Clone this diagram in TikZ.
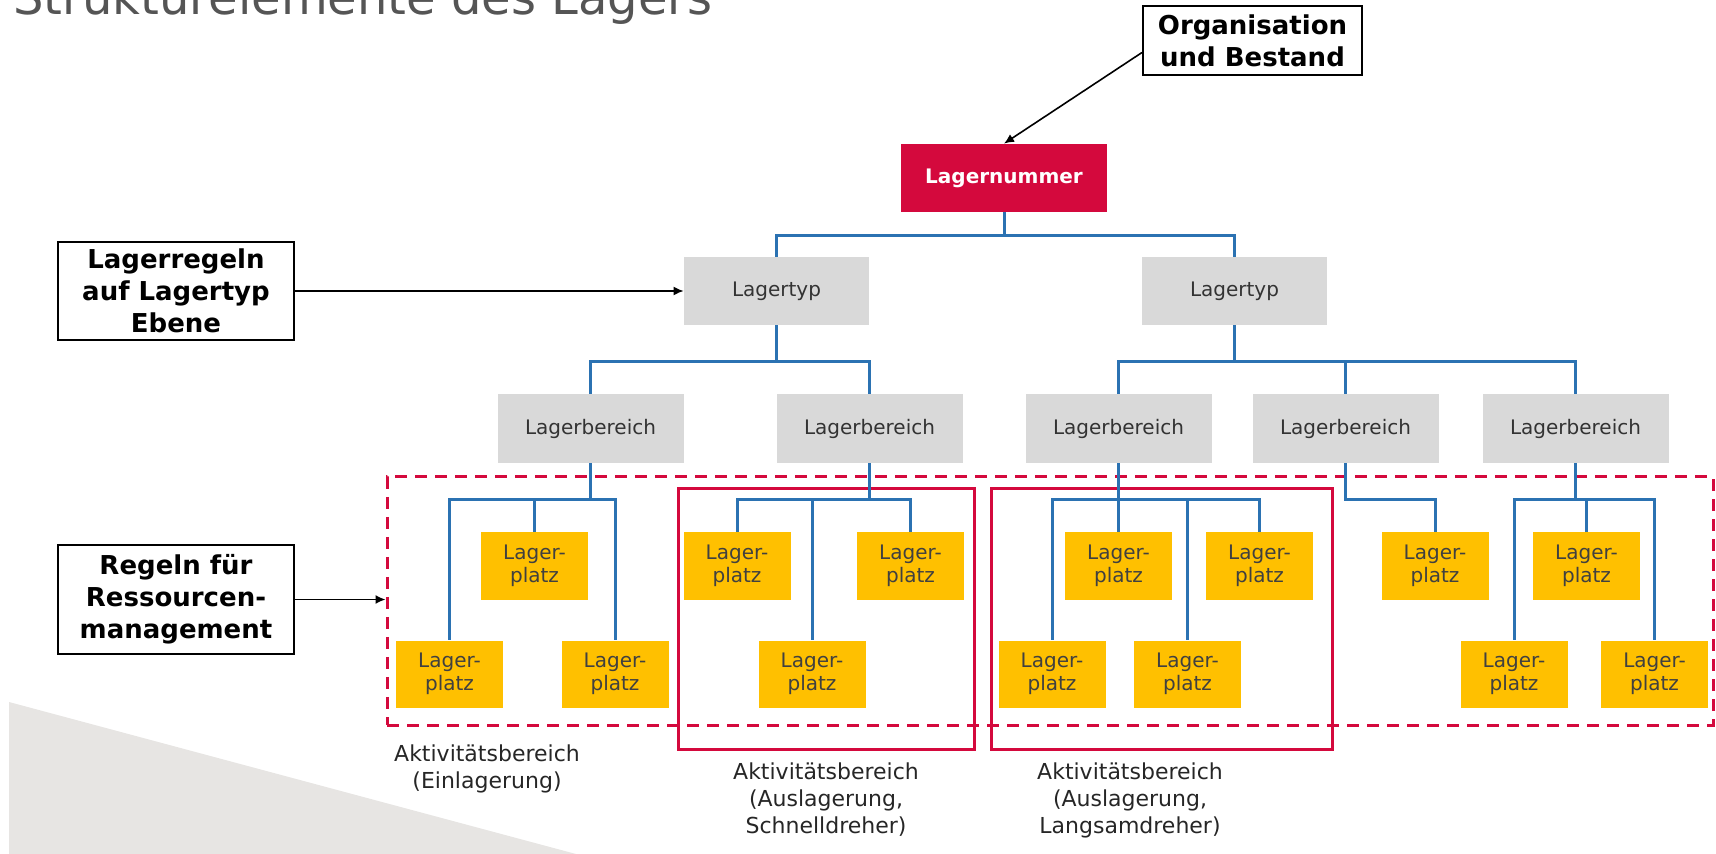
\documentclass[tikz,border=0pt]{standalone}
\usepackage{fontspec}
\setmainfont{DejaVu Sans}
\usepackage{tikz}
\usetikzlibrary{arrows.meta}
\usetikzlibrary{positioning}
\definecolor{lagerred}{HTML}{D4093D}
\definecolor{lagergray}{HTML}{D9D9D9}
\definecolor{lageryellow}{HTML}{FFC000}
\definecolor{lagerblue}{HTML}{2B72B2}
\definecolor{wedgegray}{HTML}{E7E5E3}
\definecolor{titlegray}{HTML}{555555}
\tikzstyle{every node}=[font=\fontsize{10}{11.5}\selectfont,inner sep=0pt,align=center]
\tikzstyle{infobox}=[draw=black,line width=1pt,fill=white,font=\fontsize{13}{16}\selectfont\bfseries]
\tikzstyle{rootbox}=[fill=lagerred,text=white,font=\fontsize{10}{12}\selectfont\bfseries,minimum width=103pt,minimum height=34pt]
\tikzstyle{typbox}=[fill=lagergray,text=black!80,minimum width=92.5pt,minimum height=34pt]
\tikzstyle{berbox}=[fill=lagergray,text=black!80,minimum width=93pt,minimum height=34.5pt]
\tikzstyle{platzbox}=[fill=lageryellow,text=black!75,minimum width=53.5pt,minimum height=33.5pt]
\tikzstyle{tree}=[draw=lagerblue,line width=1.5pt]
\tikzstyle{pointer}=[draw=black,line width=0.8pt,-{Latex[length=5pt,width=4.5pt]}]
\tikzstyle{zone}=[draw=lagerred,line width=1.5pt]
\tikzstyle{areatext}=[font=\fontsize{11}{13.5}\selectfont,text=black!85]

\begin{document}
\begin{tikzpicture}[x=0.5pt,y=-0.5pt]
  \useasboundingbox (0,0) rectangle (1716,854);
  % background
  \fill[wedgegray] (9,702) -- (576,854) -- (9,854) -- cycle;
  \node[anchor=base west,text=titlegray,font=\fontsize{24}{28}\selectfont] (title) at (13,15) {Strukturelemente des Lagers};

  % activity areas
  \node[zone,dash pattern=on 6pt off 4pt,minimum width=663pt,minimum height=124pt] (actall) at (1050,601) {};
  \node[zone,minimum width=148pt,minimum height=130pt] (actfast) at (826,619) {};
  \node[zone,minimum width=170.5pt,minimum height=130pt] (actslow) at (1161.5,619) {};

  % rule boxes
  \node[infobox,minimum width=109.5pt,minimum height=34.5pt] (org) at (1252.5,40.5) {Organisation\\und Bestand};
  \node[infobox,minimum width=118pt,minimum height=49pt] (regtyp) at (176,291) {Lagerregeln\\auf Lagertyp\\Ebene};
  \node[infobox,minimum width=118pt,minimum height=54.5pt] (regres) at (176,599.5) {Regeln für\\Ressourcen-\\management};

  % hierarchy
  \node[rootbox] (lnum) at (1004,178) {Lagernummer};
  \node[typbox] (typA) at (776.5,291) {Lagertyp};
  \node[typbox] (typB) at (1234.5,291) {Lagertyp};
  \foreach \nm/\xx in {berA/590.5,berB/869.5,berC/1118.5,berD/1345.5,berE/1575.5}
    \node[berbox] (\nm) at (\xx,428.5) {Lagerbereich};
  \foreach \nm/\xx/\yy in {pA1/534.5/566,pA2/449.5/674,pA3/615/674,
      pB1/737/566,pB2/812/674,pB3/910.5/566,
      pC1/1052/674,pC2/1118.5/566,pC3/1187.5/674,pC4/1259.5/566,
      pD1/1435/566,
      pE1/1514/674,pE2/1586.5/566,pE3/1654.5/674}
    \node[platzbox] (\nm) at (\xx,\yy) {Lager-\\platz};

  % connectors
  \draw[tree] (lnum.south) -- ++(0,23) -| (typA.north);
  \draw[tree] (lnum.south) -- ++(0,23) -| (typB.north);
  \foreach \up/\kid in {typA/berA,typA/berB,typB/berC,typB/berD,typB/berE,
      berA/pA1,berA/pA2,berA/pA3,berB/pB1,berB/pB2,berB/pB3,
      berC/pC1,berC/pC2,berC/pC3,berC/pC4,berD/pD1,
      berE/pE1,berE/pE2,berE/pE3}
    \draw[tree] (\up.south) -- ++(0,36) -| (\kid.north);

  \draw[pointer] ([yshift=-6pt]org.west) -- (lnum.north);
  \draw[pointer] (regtyp.east) -- (typA.west);
  \draw[pointer] (regres.east) -- (regres.east -| actall.west);

  % labels
  \node[areatext] (labin) at (487,769) {Aktivitätsbereich\\(Einlagerung)};
  \node[areatext] (labfast) at (826,800) {Aktivitätsbereich\\(Auslagerung,\\Schnelldreher)};
  \node[areatext] (labslow) at (1130,800) {Aktivitätsbereich\\(Auslagerung,\\Langsamdreher)};
\end{tikzpicture}
\end{document}
